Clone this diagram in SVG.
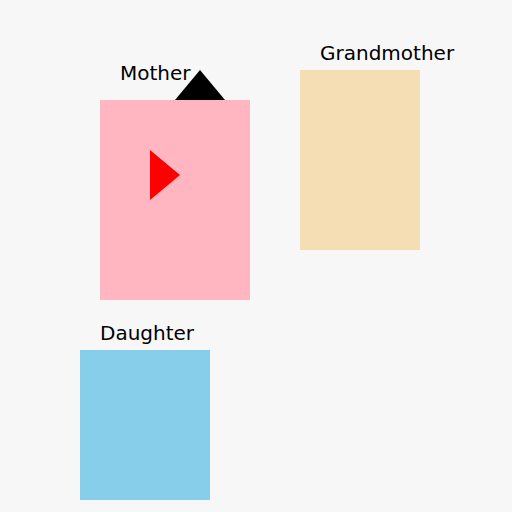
<svg xmlns="http://www.w3.org/2000/svg" width="512" height="512" viewBox="0 0 512 512">
<style>
text{font-family:"DejaVu Sans",sans-serif;font-size:20px;fill:#000}
</style>
<rect x="0" y="0" width="512" height="512" fill="#f7f7f7"/>
<g id="grandmother">
<rect x="300" y="70" width="120" height="180" fill="#f5deb3"/>
<text x="320" y="60">Grandmother</text>
</g>
<g id="mother">
<rect x="100" y="100" width="150" height="200" fill="#ffb6c1"/>
<text x="120" y="80">Mother</text>
<polygon points="175,100 200,70 225,100" fill="#000"/>
<polygon points="150,150 180,175 150,200" fill="#ff0000"/>
</g>
<g id="daughter">
<rect x="80" y="350" width="130" height="150" fill="#87ceeb"/>
<text x="100" y="340">Daughter</text>
</g>
<g id="connectors"></g>
</svg>
